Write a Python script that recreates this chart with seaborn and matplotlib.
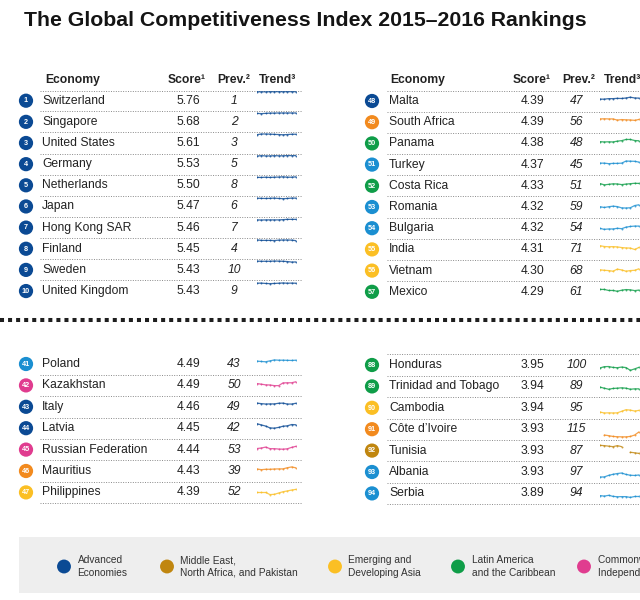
import numpy as np
import pandas as pd
import matplotlib
matplotlib.use("Agg")
import matplotlib.pyplot as plt
import seaborn as sns
from matplotlib.patches import Rectangle

sns.set_theme(style="white")
plt.rcParams["font.family"] = ["Liberation Sans", "DejaVu Sans"]

# ---------------- data ----------------
title = "The Global Competitiveness Index 2015\u20132016 Rankings"

tl_rank = [1, 2, 3, 4, 5, 6, 7, 8, 9, 10]
tl_economy = ["Switzerland", "Singapore", "United States", "Germany", "Netherlands",
              "Japan", "Hong Kong SAR", "Finland", "Sweden", "United Kingdom"]
tl_score = [5.76, 5.68, 5.61, 5.53, 5.50, 5.47, 5.46, 5.45, 5.43, 5.43]
tl_prev = [1, 2, 3, 5, 8, 6, 7, 4, 10, 9]
tl_group = ["ADV"] * 10
tl_trend = [
    [1, 2, 2, 1, 1, 1, 1, 1, 1, 1],
    [5, 7, 5, 3, 3, 2, 2, 2, 2, 2],
    [6, 1, 1, 2, 4, 5, 7, 5, 3, 3],
    [8, 5, 7, 7, 5, 6, 6, 4, 5, 4],
    [9, 10, 8, 10, 8, 7, 5, 8, 8, 5],
    [7, 8, 9, 8, 6, 9, 10, 9, 6, 6],
    [11, 12, 11, 11, 11, 11, 9, 7, 7, 7],
    [2, 6, 6, 6, 7, 4, 3, 3, 4, 8],
    [3, 4, 4, 4, 2, 3, 4, 6, 10, 9],
    [10, 9, 12, 13, 12, 10, 8, 10, 9, 10],
]

tr_rank = [48, 49, 50, 51, 52, 53, 54, 55, 56, 57]
tr_economy = ["Malta", "South Africa", "Panama", "Turkey", "Costa Rica",
              "Romania", "Bulgaria", "India", "Vietnam", "Mexico"]
tr_score = [4.39, 4.39, 4.38, 4.37, 4.33, 4.32, 4.32, 4.31, 4.30, 4.29]
tr_prev = [47, 56, 48, 45, 51, 59, 54, 71, 68, 61]
tr_group = ["ADV", "SSA", "LAC", "EUR", "LAC", "EUR", "EUR", "ASIA", "ASIA", "LAC"]
tr_trend = [
    [56, 56, 52, 52, 50, 51, 47, 41, 47, 48],
    [45, 44, 45, 45, 54, 50, 52, 53, 56, 49],
    [57, 59, 58, 59, 53, 49, 40, 40, 48, 50],
    [59, 59, 63, 61, 61, 59, 43, 44, 45, 51],
    [53, 63, 59, 55, 56, 61, 57, 54, 51, 52],
    [68, 74, 68, 64, 67, 77, 78, 76, 59, 53],
    [72, 79, 76, 76, 71, 74, 62, 57, 54, 54],
    [42, 48, 50, 49, 51, 56, 59, 60, 71, 55],
    [64, 68, 70, 75, 59, 65, 75, 70, 68, 56],
    [52, 52, 60, 60, 66, 58, 53, 55, 61, 57],
]

bl_rank = [41, 42, 43, 44, 45, 46, 47]
bl_economy = ["Poland", "Kazakhstan", "Italy", "Latvia", "Russian Federation",
              "Mauritius", "Philippines"]
bl_score = [4.49, 4.49, 4.46, 4.45, 4.44, 4.43, 4.39]
bl_prev = [43, 50, 49, 42, 53, 39, 52]
bl_group = ["EUR", "CIS", "ADV", "ADV", "CIS", "SSA", "ASIA"]
bl_trend = [
    [48, 51, 53, 46, 39, 41, 41, 42, 43, 41],
    [56, 61, 66, 67, 72, 72, 51, 50, 50, 42],
    [42, 46, 49, 48, 48, 43, 42, 49, 49, 43],
    [36, 45, 54, 68, 70, 64, 55, 52, 42, 44],
    [62, 58, 51, 63, 63, 66, 67, 64, 53, 45],
    [55, 60, 57, 57, 55, 54, 54, 45, 39, 46],
    [71, 71, 71, 87, 85, 75, 65, 59, 52, 47],
]

br_rank = [88, 89, 90, 91, 92, 93, 94]
br_economy = ["Honduras", "Trinidad and Tobago", "Cambodia", "C\u00f4te d\u2019Ivoire",
              "Tunisia", "Albania", "Serbia"]
br_score = [3.95, 3.94, 3.94, 3.93, 3.93, 3.93, 3.89]
br_prev = [100, 89, 95, 115, 87, 97, 94]
br_group = ["LAC", "LAC", "ASIA", "SSA", "MENA", "EUR", "EUR"]
br_trend = [
    [93, 83, 82, 89, 91, 86, 90, 111, 100, 88],
    [76, 84, 92, 86, 84, 81, 84, 92, 89, 89],
    [103, 110, 109, 110, 109, 97, 85, 88, 95, 90],
    [None, 115, 120, 126, 128, 129, 129, 126, 115, 91],
    [30, 32, 36, 40, 32, 40, None, 83, 87, 92],
    [109, 108, 96, 88, 82, 78, 89, 95, 97, 93],
    [87, 91, 85, 93, 96, 95, 95, 101, 94, 94],
]

group_keys = ["ADV", "MENA", "ASIA", "LAC", "CIS", "EUR", "SSA"]
group_labels = ["Advanced\nEconomies", "Middle East,\nNorth Africa, and Pakistan",
                "Emerging and\nDeveloping Asia", "Latin America\nand the Caribbean",
                "Commonwealth of\nIndependent States", "Emerging and\nDeveloping Europe",
                "Sub-Saharan\nAfrica"]
group_colors = ["#0b4a94", "#c0860f", "#fbbf24", "#0f9d48", "#e03c8f", "#1b8fd1", "#f28a1e"]
palette = dict(zip(group_keys, group_colors))

# ---------------- layout ----------------
W, H = 640, 600
panels = {
    "TL": dict(dx=0, y0=100.7, dy=21.15, rank=tl_rank, eco=tl_economy, score=tl_score,
               prev=tl_prev, grp=tl_group, trend=tl_trend),
    "TR": dict(dx=345, y0=101.0, dy=21.2, rank=tr_rank, eco=tr_economy, score=tr_score,
               prev=tr_prev, grp=tr_group, trend=tr_trend),
    "BL": dict(dx=0, y0=364.0, dy=21.4, rank=bl_rank, eco=bl_economy, score=bl_score,
               prev=bl_prev, grp=bl_group, trend=bl_trend),
    "BR": dict(dx=345, y0=365.0, dy=21.4, rank=br_rank, eco=br_economy, score=br_score,
               prev=br_prev, grp=br_group, trend=br_trend),
}

records = []
for key, p in panels.items():
    for i in range(len(p["rank"])):
        records.append(dict(panel=key, i=i, rank=p["rank"][i], economy=p["eco"][i],
                            score=p["score"][i], prev=p["prev"][i], group=p["grp"][i],
                            cx=26 + p["dx"] + (1 if p["dx"] else 0),
                            cy=p["y0"] + i * p["dy"]))
df = pd.DataFrame(records)

fig = plt.figure(figsize=(6.4, 6.0), dpi=100)
ax = fig.add_axes([0, 0, 1, 1])

txt = "#222222"
fs = 8.7

# title
ax.text(24, 21, title, fontsize=15.3, weight="bold", color="#141414", va="center", ha="left")

# headers for top panels
for dx, hy in [(0, 80), (345, 80)]:
    ax.text(45 + dx, hy, "Economy", fontsize=fs, weight="bold", color=txt, va="center")
    ax.text(206 + dx, hy, "Score\u00b9", fontsize=fs, weight="bold", color=txt, va="center", ha="right")
    ax.text(217 + dx, hy, "Prev.\u00b2", fontsize=fs, weight="bold", color=txt, va="center")
    ax.text(259 + dx, hy, "Trend\u00b3", fontsize=fs, weight="bold", color=txt, va="center")

# dotted row rules
def rule(x0, x1, y):
    ax.plot([x0, x1], [y, y], color="#8a8a8a", lw=0.7, ls=(0, (1, 1.5)), zorder=1)

for key, p in panels.items():
    n = len(p["rank"])
    x0 = 40 + p["dx"] + (2 if p["dx"] else 0)
    x1 = 302 + p["dx"]
    half = p["dy"] / 2
    if key in ("TL", "TR"):
        ys = [p["y0"] - half + 0.5] + [p["y0"] + i * p["dy"] + half for i in range(n - 1)]
    elif key == "BL":
        ys = [p["y0"] + i * p["dy"] + half for i in range(n)]
    else:
        ys = [p["y0"] - half - 0.3] + [p["y0"] + i * p["dy"] + half for i in range(n)]
    for y in ys:
        rule(x0, x1, y)

# badges
sns.scatterplot(data=df, x="cx", y="cy", hue="group", palette=palette, s=105,
                edgecolor="none", legend=False, ax=ax, zorder=3)

for r in df.itertuples():
    dx = panels[r.panel]["dx"]
    ax.text(r.cx, r.cy + 0.3, str(r.rank), fontsize=5.2, weight="bold", color="white",
            ha="center", va="center", zorder=4)
    ax.text(42 + dx + (2 if dx else 0), r.cy, r.economy, fontsize=fs, color=txt, va="center", ha="left")
    ax.text(200 + dx - (1 if dx else 0), r.cy, f"{r.score:.2f}", fontsize=fs, color=txt,
            va="center", ha="right")
    ax.text(234 + dx - 2.5 * (1 if dx else 0), r.cy, str(r.prev), fontsize=fs, style="italic",
            color=txt, va="center", ha="center")

# thick square-dotted separator
ax.plot([0, W], [320, 320], color="#1e1e1e", lw=2.9, ls=(0, (1, 1)),
        dash_capstyle="butt", solid_capstyle="butt", zorder=2)

# legend box
ax.add_patch(Rectangle((19, 537), W - 19, 56, facecolor="#eeeeee", edgecolor="none", zorder=0))
leg = pd.DataFrame(dict(x=[64, 167, 335, 458, 584], y=[566.5] * 5, group=group_keys[:5]))
sns.scatterplot(data=leg, x="x", y="y", hue="group", palette=palette, s=100, edgecolor="none",
                legend=False, ax=ax, zorder=3)
for lx, lab in zip(leg["x"], group_labels[:5]):
    ax.text(lx + 13.5, 566.5, lab, fontsize=7.3, color="#333333", va="center", ha="left",
            linespacing=1.35)

ax.set_xlim(0, W)
ax.set_ylim(H, 0)
ax.axis("off")

# sparklines (rank history, inverted)
for r in df.itertuples():
    p = panels[r.panel]
    tx0 = 257 + p["dx"] - (2 if p["dx"] else 0)
    tw = 39
    ch = 21
    iax = fig.add_axes([tx0 / W, 1 - (r.cy + ch / 2) / H, tw / W, ch / H])
    vals = p["trend"][r.i]
    col = palette[r.group]
    seg_x, seg_y = [], []
    segs = []
    for k, v in enumerate(vals):
        if v is None:
            if seg_x:
                segs.append((seg_x, seg_y))
            seg_x, seg_y = [], []
        else:
            seg_x.append(k)
            seg_y.append(v)
    if seg_x:
        segs.append((seg_x, seg_y))
    for sx, sy in segs:
        sns.lineplot(x=sx, y=sy, ax=iax, color=col, lw=0.9, alpha=0.8, marker="o",
                     markersize=1.4, markeredgewidth=0, estimator=None)
    iax.set_xlim(0, 9)
    iax.set_ylim(151, -10.5)
    iax.axis("off")

fig.savefig("out.png", dpi=100)
